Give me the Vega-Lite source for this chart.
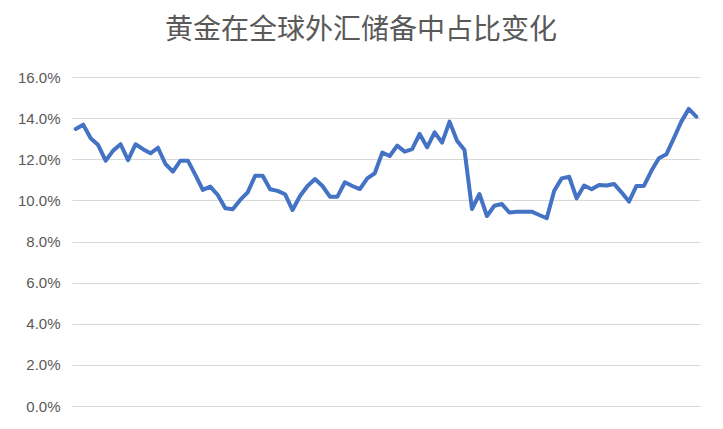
{
  "$schema": "https://vega.github.io/schema/vega-lite/v6.json",
  "width": 628,
  "height": 329,
  "autosize": {"type": "none"},
  "padding": {"left": 72, "top": 77, "right": 23, "bottom": 23},
  "background": "white",
  "title": {
    "text": "黄金在全球外汇储备中占比变化",
    "font": "Noto Sans CJK SC",
    "fontSize": 28,
    "fontWeight": "normal",
    "color": "#595959",
    "anchor": "middle",
    "frame": "group",
    "dx": -25,
    "baseline": "alphabetic",
    "offset": 3
  },
  "data": {
    "values": [
      {"t": 1, "v": 13.47}, {"t": 2, "v": 13.68}, {"t": 3, "v": 13.02}, {"t": 4, "v": 12.69},
      {"t": 5, "v": 11.93}, {"t": 6, "v": 12.42}, {"t": 7, "v": 12.73}, {"t": 8, "v": 11.96},
      {"t": 9, "v": 12.73}, {"t": 10, "v": 12.49}, {"t": 11, "v": 12.29}, {"t": 12, "v": 12.56},
      {"t": 13, "v": 11.77}, {"t": 14, "v": 11.40}, {"t": 15, "v": 11.93}, {"t": 16, "v": 11.93},
      {"t": 17, "v": 11.24}, {"t": 18, "v": 10.51}, {"t": 19, "v": 10.67}, {"t": 20, "v": 10.26},
      {"t": 21, "v": 9.62}, {"t": 22, "v": 9.57}, {"t": 23, "v": 10.02}, {"t": 24, "v": 10.39},
      {"t": 25, "v": 11.20}, {"t": 26, "v": 11.20}, {"t": 27, "v": 10.54}, {"t": 28, "v": 10.46},
      {"t": 29, "v": 10.30}, {"t": 30, "v": 9.53}, {"t": 31, "v": 10.21}, {"t": 32, "v": 10.70},
      {"t": 33, "v": 11.04}, {"t": 34, "v": 10.70}, {"t": 35, "v": 10.18}, {"t": 36, "v": 10.18},
      {"t": 37, "v": 10.88}, {"t": 38, "v": 10.70}, {"t": 39, "v": 10.55}, {"t": 40, "v": 11.07},
      {"t": 41, "v": 11.32}, {"t": 42, "v": 12.32}, {"t": 43, "v": 12.16}, {"t": 44, "v": 12.66},
      {"t": 45, "v": 12.37}, {"t": 46, "v": 12.49}, {"t": 47, "v": 13.23}, {"t": 48, "v": 12.58},
      {"t": 49, "v": 13.31}, {"t": 50, "v": 12.81}, {"t": 51, "v": 13.83}, {"t": 52, "v": 12.90},
      {"t": 53, "v": 12.45}, {"t": 54, "v": 9.58}, {"t": 55, "v": 10.31}, {"t": 56, "v": 9.24},
      {"t": 57, "v": 9.74}, {"t": 58, "v": 9.82}, {"t": 59, "v": 9.41}, {"t": 60, "v": 9.45},
      {"t": 61, "v": 9.45}, {"t": 62, "v": 9.45}, {"t": 63, "v": 9.29}, {"t": 64, "v": 9.13},
      {"t": 65, "v": 10.47}, {"t": 66, "v": 11.07}, {"t": 67, "v": 11.15}, {"t": 68, "v": 10.10},
      {"t": 69, "v": 10.72}, {"t": 70, "v": 10.54}, {"t": 71, "v": 10.75}, {"t": 72, "v": 10.72},
      {"t": 73, "v": 10.80}, {"t": 74, "v": 10.39}, {"t": 75, "v": 9.94}, {"t": 76, "v": 10.70},
      {"t": 77, "v": 10.70}, {"t": 78, "v": 11.44}, {"t": 79, "v": 12.05}, {"t": 80, "v": 12.24},
      {"t": 81, "v": 13.02}, {"t": 82, "v": 13.83}, {"t": 83, "v": 14.45}, {"t": 84, "v": 14.07}
    ]
  },
  "mark": {"type": "line", "color": "#4472C4", "strokeWidth": 4, "strokeJoin": "round", "strokeCap": "round"},
  "encoding": {
    "x": {
      "field": "t",
      "type": "quantitative",
      "scale": {"domain": [0.5, 84.5], "nice": false, "zero": false},
      "axis": null
    },
    "y": {
      "field": "v",
      "type": "quantitative",
      "scale": {"domain": [0, 16], "nice": false},
      "axis": {
        "title": null,
        "values": [0, 2, 4, 6, 8, 10, 12, 14, 16],
        "labelExpr": "format(datum.value, '.1f') + '%'",
        "domain": false,
        "ticks": false,
        "grid": true,
        "gridColor": "#d9d9d9",
        "gridWidth": 1.2,
        "labelFont": "Liberation Sans",
        "labelFontSize": 15,
        "labelColor": "#595959",
        "labelPadding": 12
      }
    }
  },
  "config": {"view": {"stroke": null}}
}
